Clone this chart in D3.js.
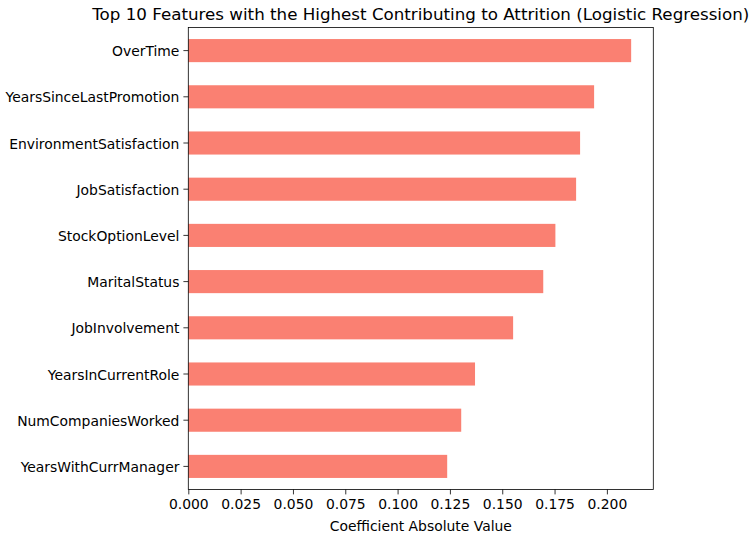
<!DOCTYPE html>
<html>
<head>
<meta charset="UTF-8">
<script src="https://d3js.org/d3.v7.min.js"></script>
<style>
  body { margin: 0; background: #fff; }
  text { font-family: "DejaVu Sans", sans-serif; fill: #000; }
</style>
</head>
<body>
<svg width="751" height="534"></svg>
<script>
// features, top to bottom
const features = ["OverTime", "YearsSinceLastPromotion", "EnvironmentSatisfaction", "JobSatisfaction",
  "StockOptionLevel", "MaritalStatus", "JobInvolvement", "YearsInCurrentRole",
  "NumCompaniesWorked", "YearsWithCurrManager"];
const coefs = [0.2116, 0.1939, 0.1872, 0.1853, 0.1754, 0.1696, 0.1552, 0.1370, 0.1304, 0.1237];
const xTicks = [0, 0.025, 0.05, 0.075, 0.1, 0.125, 0.15, 0.175, 0.2];

const svg = d3.select("svg");
const plotLeft = 188.3, plotRight = 653.3, plotTop = 27.5, plotBottom = 489.5;

const x = d3.scaleLinear().domain([0, d3.max(coefs) * 1.05]).range([plotLeft, plotRight]);
const y = d3.scaleBand().domain(features).range([plotTop, plotBottom]).paddingInner(0.5).paddingOuter(0.25);

svg.append("g")
  .selectAll("rect")
  .data(features)
  .enter().append("rect")
  .attr("x", x(0))
  .attr("y", d => y(d))
  .attr("width", (d, i) => x(coefs[i]) - x(0))
  .attr("height", y.bandwidth())
  .attr("fill", "salmon");

// axes
const xAxis = svg.append("g")
  .attr("transform", `translate(0,${plotBottom})`)
  .call(d3.axisBottom(x).tickValues(xTicks).tickFormat(d3.format(".3f")).tickSize(4.9).tickPadding(4.5));
xAxis.selectAll("text").attr("font-size", "13.9px").attr("font-family", "DejaVu Sans");

const yAxis = svg.append("g")
  .attr("transform", `translate(${plotLeft},0)`)
  .call(d3.axisLeft(y).tickSize(4.9).tickPadding(4));
yAxis.selectAll("text").attr("font-size", "13.9px").attr("font-family", "DejaVu Sans").attr("dy", "0.4em");

[xAxis, yAxis].forEach(a => {
  a.select(".domain").remove();
  a.selectAll("line").attr("stroke", "#000").attr("stroke-width", 0.8);
});

// frame
svg.append("rect")
  .attr("x", plotLeft).attr("y", plotTop)
  .attr("width", plotRight - plotLeft).attr("height", plotBottom - plotTop)
  .attr("fill", "none").attr("stroke", "#000").attr("stroke-width", 0.8);

svg.append("text")
  .attr("x", (plotLeft + plotRight) / 2).attr("y", 20)
  .attr("text-anchor", "middle")
  .attr("font-size", "16.7px")
  .text("Top 10 Features with the Highest Contributing to Attrition (Logistic Regression)");

svg.append("text")
  .attr("x", (plotLeft + plotRight) / 2).attr("y", 531)
  .attr("text-anchor", "middle")
  .attr("font-size", "13.9px")
  .text("Coefficient Absolute Value");
</script>
</body>
</html>
